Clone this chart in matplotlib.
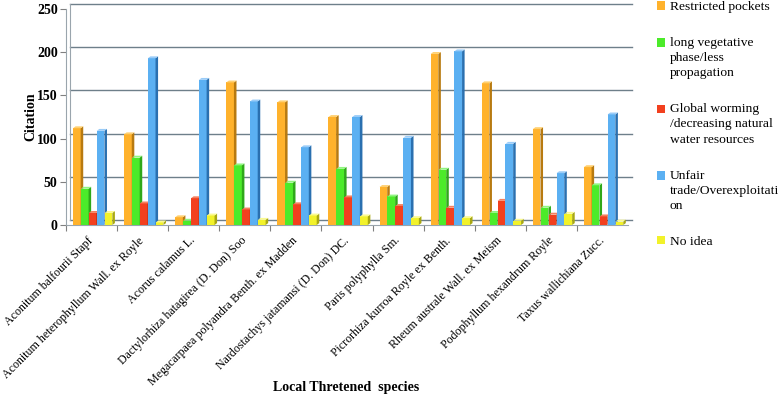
import matplotlib
matplotlib.use("Agg")
import matplotlib.pyplot as plt
import matplotlib.transforms as mtrans
import numpy as np

species = [
    "Aconitum balfourii Stapf",
    "Aconitum heterophyllum Wall. ex Royle",
    "Acorus calamus L.",
    "Dactylorhiza hatagirea (D. Don) Soo",
    "Megacarpaea polyandra Benth. ex Madden",
    "Nardostachys jatamansi (D. Don) DC.",
    "Paris polyphylla Sm.",
    "Picrorhiza kurroa Royle ex Benth.",
    "Rheum australe Wall. ex Meism",
    "Podophyllum hexandrum Royle",
    "Taxus wallichiana Zucc.",
]
restricted = [112, 105, 9, 165, 142, 125, 44, 198, 164, 111, 67]
vegetative = [42, 78, 5, 69, 49, 65, 33, 64, 14, 20, 46]
warming = [14, 25, 31, 18, 24, 32, 22, 20, 28, 12, 10]
unfair = [109, 193, 168, 143, 90, 125, 101, 201, 94, 60, 128]
no_idea = [14, 3, 11, 6, 11, 10, 8, 8, 5, 13, 4]

series_labels = [
    "Restricted pockets",
    "long vegetative\nphase/less\npropagation",
    "Global worming\n/decreasing natural\nwater resources",
    "Unfair\ntrade/Overexploitati\non",
    "No idea",
]
series = [restricted, vegetative, warming, unfair, no_idea]
front_colors = ["#FFB22C", "#4CEB2A", "#F2401E", "#5BB0F2", "#F2F22A"]
side_colors = ["#B87A10", "#2FA81A", "#A82A10", "#2A70B0", "#A8A812"]
top_colors = ["#FFD070", "#90F580", "#F58060", "#9ACCF8", "#FAFA90"]
yticks = [0, 50, 100, 150, 200, 250]

plt.rcParams["font.family"] = ["Liberation Serif", "DejaVu Serif"]

fig = plt.figure(figsize=(7.78, 3.95), dpi=100)
ax = fig.add_axes([66 / 778, 1 - 225 / 395, (628 - 66) / 778, (225 - 9) / 395])

x = np.arange(len(species))
bw = 0.15
step = 0.155
start = -0.363
dx, dy = 0.05, 2.2

for k, (vals, fc, sc, tc, lab) in enumerate(zip(series, front_colors, side_colors, top_colors, series_labels)):
    left = x + start + k * step
    ax.bar(left, vals, width=bw, align="edge", color=fc, label=lab, zorder=3 + k * 0.01)
    for l, v in zip(left, vals):
        r = l + bw
        ax.fill([r, r + dx, r + dx, r], [0, dy, v + dy, v], color=sc, zorder=3 + k * 0.01, lw=0)
        ax.fill([l, l + dx, r + dx, r], [v, v + dy, v + dy, v], color=tc, zorder=3 + k * 0.01, lw=0)

ax.set_xlim(-0.5, len(species) - 0.5)
ax.set_ylim(0, 250)
ax.set_yticks(yticks)
ax.set_yticklabels([str(t) for t in yticks], fontsize=10, fontweight="bold")

# back-wall gridlines (offset up/right for 3D depth)
off = mtrans.ScaledTranslation(4 / 100, 5 / 100, fig.dpi_scale_trans)
for t in yticks:
    ax.plot([-0.5, len(species) - 0.5], [t, t], color="#6E7F8A", lw=1.0,
            transform=ax.transData + off, clip_on=False, zorder=1)
ax.plot([-0.5, -0.5], [0, 250], color="#9AA5AD", lw=0.8,
        transform=ax.transData + off, clip_on=False, zorder=1)

ax.set_xticks(x - 0.5, minor=False)
ax.set_xticklabels([])
ax.set_xticks(x, minor=True)
ax.set_xticklabels(species, minor=True, rotation=45, ha="right", va="center",
                   rotation_mode="anchor", fontsize=8.6)
ax.tick_params(axis="x", which="minor", length=0, pad=10)
ax.tick_params(axis="x", which="major", length=4, color="#808080")
ax.tick_params(axis="y", length=4, color="#808080", pad=2)

for s in ["top", "right"]:
    ax.spines[s].set_visible(False)
for s in ["left", "bottom"]:
    ax.spines[s].set_color("#9AA5AD")

ax.set_ylabel("Citation", fontsize=10, fontweight="bold", labelpad=0)
fig.text(346 / 778, 1 - 388 / 395, "Local Thretened  species", fontsize=10,
         fontweight="bold", ha="center", va="center")

leg = fig.legend(loc="upper left", bbox_to_anchor=(657 / 778, 1 - 1 / 395),
                 frameon=False, fontsize=9.7, handlelength=0.6, handleheight=0.6,
                 handletextpad=0.35, labelspacing=1.78, borderaxespad=0,
                 borderpad=0)
for t in leg.get_texts():
    t.set_linespacing(1.35)

fig.canvas.draw()
renderer = fig.canvas.get_renderer()
single_h = None
for t, lab in zip(leg.get_texts(), series_labels):
    if "\n" not in lab:
        single_h = t.get_window_extent(renderer).height
        break
for h, t, lab in zip(leg.legend_handles, leg.get_texts(), series_labels):
    n = lab.count("\n") + 1
    if n > 1:
        th = t.get_window_extent(renderer).height
        shift_px = (th - single_h) / 2
        h.set_y(h.get_y() + shift_px * 72 / fig.dpi)

fig.savefig("out.png", dpi=100)
